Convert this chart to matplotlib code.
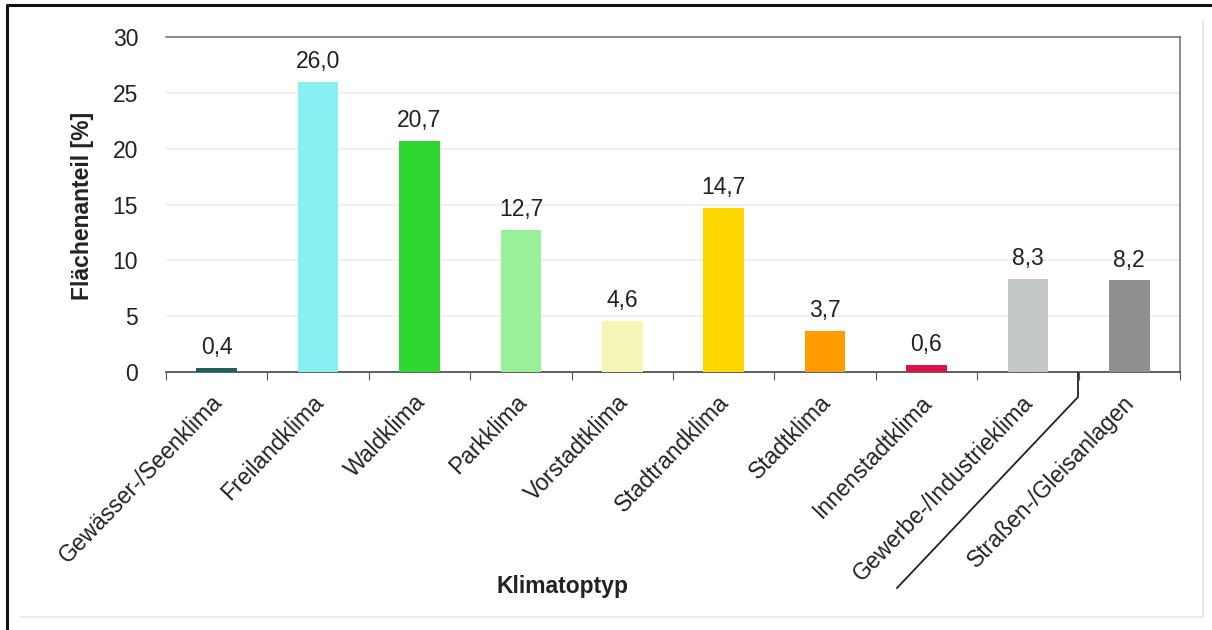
import matplotlib
matplotlib.use("Agg")
import matplotlib.pyplot as plt
from matplotlib.lines import Line2D

categories = ["Gewässer-/Seenklima", "Freilandklima", "Waldklima", "Parkklima",
              "Vorstadtklima", "Stadtrandklima", "Stadtklima", "Innenstadtklima",
              "Gewerbe-/Industrieklima", "Straßen-/Gleisanlagen"]
values = [0.4, 26.0, 20.7, 12.7, 4.6, 14.7, 3.7, 0.6, 8.3, 8.2]
colors = ["#1f5f5c", "#88f0f2", "#2fd62f", "#98f098", "#f5f5b5",
          "#ffd700", "#ff9c00", "#dc1446", "#c4c8c4", "#8f8f8f"]
yticks = [0, 5, 10, 15, 20, 25, 30]

plt.rcParams['font.family'] = ['Liberation Sans', 'DejaVu Sans']
FS = 16.5
TC = "#222222"

fig = plt.figure(figsize=(12.12, 6.3), dpi=100)
ax = fig.add_axes([166/1212, 1-372/630, (1180-166)/1212, (372-37)/630])

x = list(range(len(categories)))
ax.bar(x, values, width=0.4, color=colors, zorder=3)
for xi, v in zip(x, values):
    ax.text(xi, v + 0.8, f"{v:.1f}".replace(".", ","), ha="center", va="bottom",
            fontsize=FS, color=TC)

ax.set_xlim(-0.5, len(categories) - 0.5)
ax.set_ylim(0, 30)
ax.set_yticks(yticks)
ax.set_yticklabels([str(t) for t in yticks], fontsize=FS, color=TC)
ax.tick_params(axis="y", length=0, pad=20)
ax.set_xticks([i + 0.5 for i in range(-1, len(categories))])
ax.set_xticklabels([])
ax.tick_params(axis="x", length=6, direction="out", color="#555555")
for i, lab in enumerate(categories):
    ax.text(i + 0.02, -2.4, lab, rotation=46, rotation_mode="anchor",
            ha="right", va="center", fontsize=FS, color=TC)

for t in yticks[1:-1]:
    ax.axhline(t, color="#f0f0f0", lw=1.5, zorder=1)

for s in ["top", "right"]:
    ax.spines[s].set_color("#777777")
    ax.spines[s].set_linewidth(1.2)
ax.spines["left"].set_visible(False)
ax.spines["bottom"].set_color("#444444")
ax.spines["bottom"].set_linewidth(1.2)

fig.text(83/1212, 1-206/630, "Flächenanteil [%]", rotation=90, ha="center",
         va="center", fontsize=FS, fontweight="bold", color=TC)
fig.text(563/1212, 1-587/630, "Klimatoptyp", ha="center", va="center",
         fontsize=FS, fontweight="bold", color=TC)

# separator line between last two categories
fig.add_artist(Line2D([1078/1212, 1078/1212, 897/1212],
                      [1-373/630, 1-397/630, 1-588/630], color="#222222", lw=1.3))

# outer frame: black left/top, faint bottom/right
fig.add_artist(Line2D([7/1212, 7/1212, 1.0], [0.0, 1-5/630, 1-5/630],
                      color="#111111", lw=2.2))
fig.add_artist(Line2D([20/1212, 1203/1212, 1203/1212], [1-617/630, 1-617/630, 1-20/630],
                      color="#e6e6e6", lw=1.2))

fig.savefig("out.png", dpi=100)
